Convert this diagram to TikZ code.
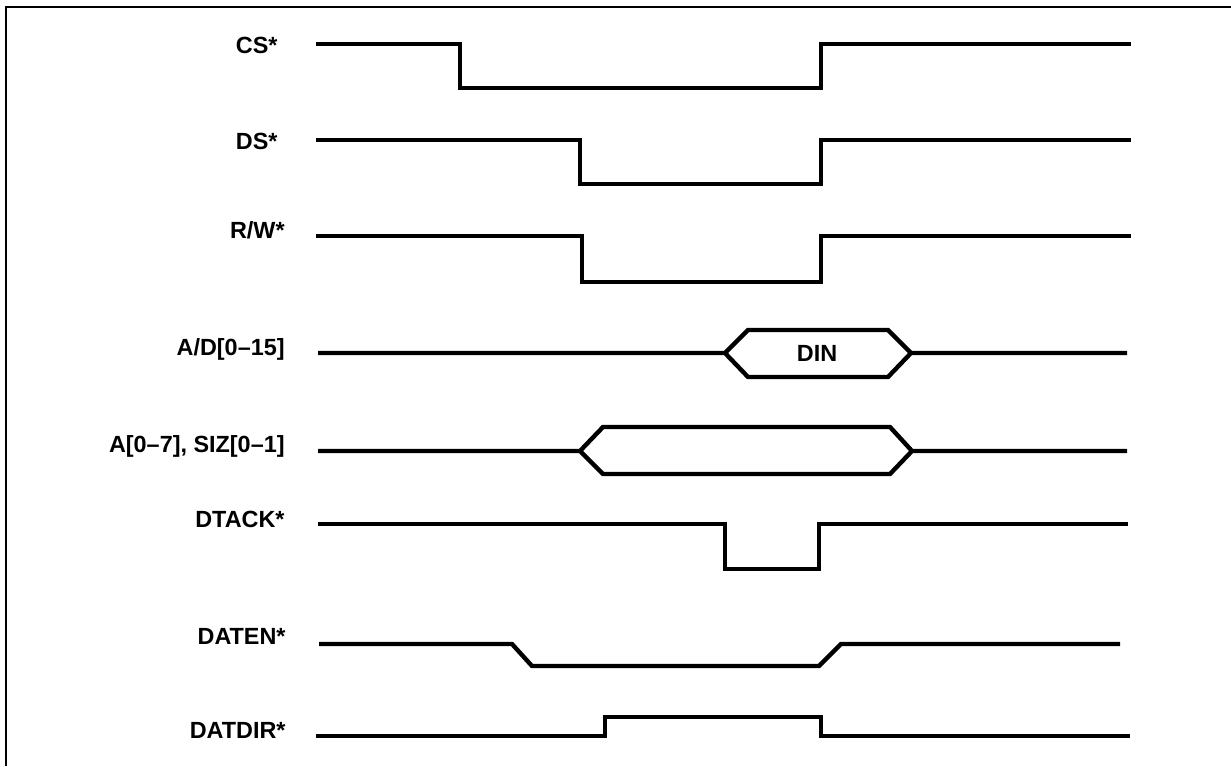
\documentclass[tikz,border=0pt]{standalone}
\usepackage{fontspec}
\setmainfont{Liberation Sans}
\begin{document}
\begin{tikzpicture}[x=0.5pt, y=-0.5pt,
    wave/.style={line width=2.2pt},
    siglabel/.style={anchor=base east, inner sep=0pt, font=\fontsize{11.7}{14}\selectfont\bfseries}]
  \useasboundingbox (0,0) rectangle (1231,766);
  % Frame
  \draw[line width=1pt] (1231,7) -- (6,7) -- (6,766);

  % Signal names
  \foreach \lbl/\xe/\yb [count=\i] in {CS*/278/53, DS*/278/149, {R/W*}/285/238,
      {A/D[0--15]}/285/355, {A[0--7], SIZ[0--1]}/285/452, DTACK*/285/527,
      DATEN*/286/644, DATDIR*/286/738}
    \node[siglabel] (sig\i) at (\xe,\yb) {\lbl};

  % Control strobes
  \draw[wave] (316,44) -- (460,44) -- (460,88) -- (821,88) -- (821,44) -- (1131,44);
  \draw[wave] (316,140) -- (580,140) -- (580,184) -- (821,184) -- (821,140) -- (1131,140);
  \draw[wave] (316,236) -- (582,236) -- (582,282) -- (821,282) -- (821,236) -- (1131,236);

  % Buses
  \draw[wave] (318,353) -- (725,353) -- (748,330) -- (888,330) -- (911,353) -- (1127,353)
              (725,353) -- (748,377) -- (888,377) -- (911,353);
  \node[font=\fontsize{11.7}{14}\selectfont\bfseries, inner sep=0pt] (din) at (817,353) {DIN};
  \draw[wave] (318,451) -- (580,451) -- (603,427) -- (890,427) -- (912,451) -- (1127,451)
              (580,451) -- (603,474) -- (890,474) -- (912,451);

  % Handshake
  \draw[wave] (318,524) -- (725,524) -- (725,569) -- (819,569) -- (819,524) -- (1128,524);
  \draw[wave] (319,644) -- (512,644) -- (532,666) -- (819,666) -- (841,644) -- (1120,644);
  \draw[wave] (316,736) -- (605,736) -- (605,717) -- (821,717) -- (821,736) -- (1130,736);
\end{tikzpicture}
\end{document}
